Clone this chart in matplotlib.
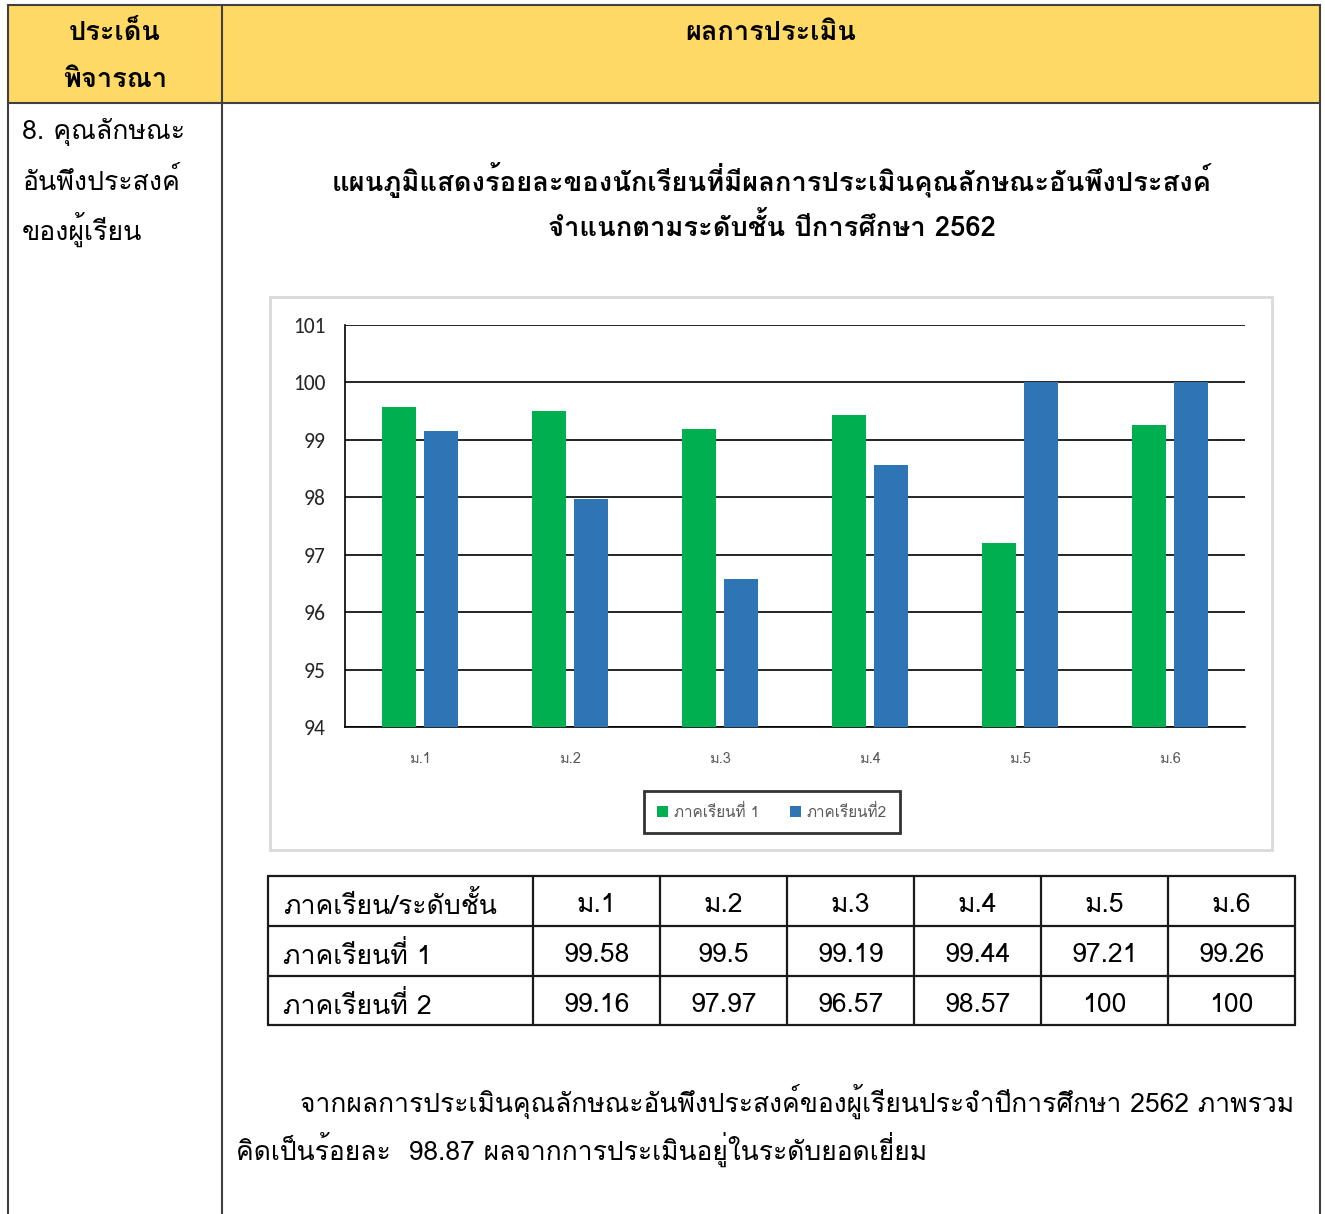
import matplotlib
matplotlib.use("Agg")
import matplotlib.pyplot as plt
from matplotlib.lines import Line2D
from matplotlib.patches import Rectangle, Patch
import numpy as np

# ---------------- data ----------------
levels = ["ม.1", "ม.2", "ม.3", "ม.4", "ม.5", "ม.6"]
term1 = [99.58, 99.5, 99.19, 99.44, 97.21, 99.26]
term2 = [99.16, 97.97, 96.57, 98.57, 100, 100]
series_names = ["ภาคเรียนที่ 1", "ภาคเรียนที่2"]
row_names = ["ภาคเรียนที่ 1", "ภาคเรียนที่ 2"]
table_corner = "ภาคเรียน/ระดับชั้น"
y_ticks = [94, 95, 96, 97, 98, 99, 100, 101]
header_left = ["ประเด็น", "พิจารณา"]
header_right = "ผลการประเมิน"
left_body = ["8. คุณลักษณะ", "อันพึงประสงค์", "ของผู้เรียน"]
title_lines = ["แผนภูมิแสดงร้อยละของนักเรียนที่มีผลการประเมินคุณลักษณะอันพึงประสงค์",
               "จำแนกตามระดับชั้น ปีการศึกษา 2562"]
para_lines = ["จากผลการประเมินคุณลักษณะอันพึงประสงค์ของผู้เรียนประจำปีการศึกษา 2562 ภาพรวม",
              "คิดเป็นร้อยละ  98.87 ผลจากการประเมินอยู่ในระดับยอดเยี่ยม"]

GREEN = "#00B050"
BLUE = "#2E75B6"
YELLOW = "#FFD966"

W, H = 1325, 1214
fig = plt.figure(figsize=(W / 100, H / 100), dpi=100)
renderer = fig.canvas.get_renderer()

def fx(x):
    return x / W

def fy(y):
    return 1 - y / H

def hline(x0, x1, y, color="#404040", lw=1.5):
    fig.add_artist(Line2D([fx(x0), fx(x1)], [fy(y), fy(y)], transform=fig.transFigure,
                          color=color, lw=lw, solid_capstyle="butt"))

def vline(x, y0, y1, color="#404040", lw=1.5):
    fig.add_artist(Line2D([fx(x), fx(x)], [fy(y0), fy(y1)], transform=fig.transFigure,
                          color=color, lw=lw, solid_capstyle="butt"))

THAI = ["Loma", "DejaVu Sans"]

def fit(s, target_w, family, weight="normal", base=20.0):
    t = fig.text(0, 0, s, fontsize=base, family=family, weight=weight)
    w = t.get_window_extent(renderer).width
    t.remove()
    return base * target_w / w

def txt(x, y, s, size, family, weight="normal", ha="left", color="black"):
    return fig.text(fx(x), fy(y), s, fontsize=size, family=family, weight=weight,
                    ha=ha, va="center", color=color)

# ---------------- outer frame ----------------
fig.add_artist(Rectangle((fx(8), fy(103)), fx(1320) - fx(8), fy(5) - fy(103),
                         transform=fig.transFigure, facecolor=YELLOW, edgecolor="none",
                         zorder=-2))
hline(8, 1321, 5)
hline(8, 1321, 103)
vline(8, 4, H)
vline(222, 4, H)
vline(1320, 4, H)

# header text
hs = fit(header_right, 171, THAI, "bold")
txt(115, 33, header_left[0], hs, THAI, "bold", ha="center")
txt(115, 80, header_left[1], hs, THAI, "bold", ha="center")
txt(771, 33, header_right, hs, THAI, "bold", ha="center")

# left body text
ls = fit(left_body[1], 158, THAI)
for i, s in enumerate(left_body):
    txt(22, 132 + i * 48.5, s, ls, THAI)

# titles
ts = fit(title_lines[0], 880, THAI, "bold")
txt(772, 180, title_lines[0], ts, THAI, "bold", ha="center")
txt(772, 227, title_lines[1], ts, THAI, "bold", ha="center")

# ---------------- chart ----------------
fig.add_artist(Rectangle((fx(270), fy(850)), fx(1272) - fx(270), fy(297) - fy(850),
                         transform=fig.transFigure, facecolor="white",
                         edgecolor="#D9D9D9", lw=2, zorder=-1))

ax = fig.add_axes([fx(345), fy(727), fx(1245) - fx(345), fy(325) - fy(727)])
ax.set_zorder(2)
ax.patch.set_alpha(0)
x = np.arange(len(levels))
bw = 0.225
ax.bar(x - 0.14, term1, bw, color=GREEN, zorder=3)
ax.bar(x + 0.14, term2, bw, color=BLUE, zorder=3)
ax.set_xlim(-0.5, len(levels) - 0.5)
ax.set_ylim(94, 101)
ax.set_yticks(y_ticks)
ax.set_xticks(x)
ax.set_xticklabels(levels, family=THAI, fontsize=10.5, color="#595959")
ax.set_yticklabels([str(v) for v in y_ticks], family=["Carlito", "Liberation Sans", "DejaVu Sans"],
                   fontsize=15.5, color="#262626")
ax.tick_params(axis="both", length=0)
ax.tick_params(axis="y", pad=14)
ax.tick_params(axis="x", pad=18)
ax.yaxis.grid(True, color="black", lw=1.2, zorder=1)
ax.set_axisbelow(True)
for sp in ["top", "right"]:
    ax.spines[sp].set_visible(False)
ax.spines["left"].set_color("black")
ax.spines["left"].set_linewidth(1.2)
ax.spines["bottom"].set_color("black")
ax.spines["bottom"].set_linewidth(1.2)

handles = [Patch(facecolor=GREEN), Patch(facecolor=BLUE)]
leg = fig.legend(handles, series_names, loc="center", bbox_to_anchor=(fx(772), fy(812)),
                 ncol=2, frameon=True, fancybox=False, edgecolor="black",
                 prop={"family": THAI, "size": 11},
                 handlelength=0.7, handleheight=0.7, handletextpad=0.4,
                 columnspacing=2.0, borderpad=0.85, labelcolor="#595959")
leg.get_frame().set_linewidth(2)
leg.set_zorder(5)

# ---------------- data table ----------------
col_x = [268, 533, 660, 787, 914, 1041, 1168, 1295]
row_y = [876, 926, 976, 1025]
for yy in row_y:
    hline(col_x[0] - 1, col_x[-1] + 1, yy, color="#1a1a1a", lw=1.6)
for xx in col_x:
    vline(xx, row_y[0], row_y[-1], color="#1a1a1a", lw=1.6)

tbs = fit(table_corner, 214, THAI)
rows = [[table_corner] + levels,
        [row_names[0]] + [f"{v:g}" for v in term1],
        [row_names[1]] + [f"{v:g}" for v in term2]]
for r, row in enumerate(rows):
    yc = (row_y[r] + row_y[r + 1]) / 2 + 4
    for c, s in enumerate(row):
        if c == 0:
            txt(283, yc, s, tbs, THAI)
        else:
            txt((col_x[c] + col_x[c + 1]) / 2, yc, s, tbs, THAI, ha="center")

# ---------------- paragraph ----------------
ps = fit(para_lines[0], 995, THAI)
txt(300, 1101, para_lines[0], ps, THAI)
txt(236, 1149, para_lines[1], ps, THAI)

fig.savefig("out.png", dpi=100, facecolor="white")
